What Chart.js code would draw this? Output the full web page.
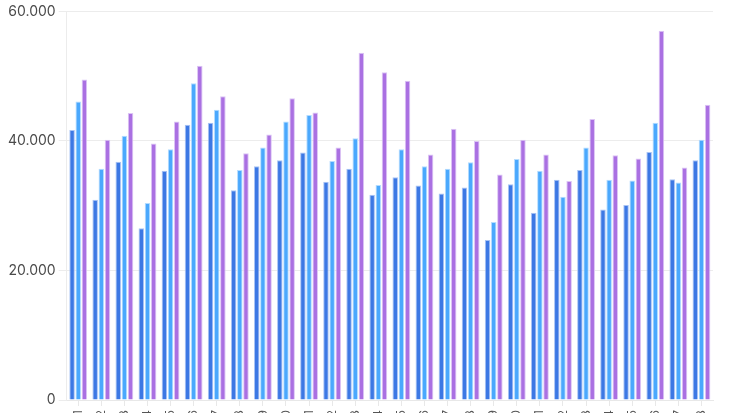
<!DOCTYPE html>
<html lang="de">
<head>
    <meta charset="UTF-8">
    <title>Werte je Kategorie</title>
    <script src="https://cdn.jsdelivr.net/npm/chart.js"></script>
    <style>
        html, body {
            margin: 0;
            padding: 0;
            overflow: hidden;
            background: #ffffff;
        }
        #myChart {
            display: block;
        }
    </style>
</head>
<body>
    <canvas id="myChart" width="735" height="470"></canvas>

    <script>
        const labels = [
            'Kategorie 01', 'Kategorie 02', 'Kategorie 03', 'Kategorie 04', 'Kategorie 05', 'Kategorie 06', 'Kategorie 07',
            'Kategorie 08', 'Kategorie 09', 'Kategorie 10', 'Kategorie 11', 'Kategorie 12', 'Kategorie 13', 'Kategorie 14',
            'Kategorie 15', 'Kategorie 16', 'Kategorie 17', 'Kategorie 18', 'Kategorie 19', 'Kategorie 20', 'Kategorie 21',
            'Kategorie 22', 'Kategorie 23', 'Kategorie 24', 'Kategorie 25', 'Kategorie 26', 'Kategorie 27', 'Kategorie 28'
        ];
        const serieA = [41700, 30900, 36800, 26500, 35400, 42500, 42800, 32400, 36100, 37000, 38200, 33700, 35700, 31700,
                        34400, 33100, 31900, 32800, 24700, 33300, 28900, 34000, 35500, 29400, 30100, 38300, 34100, 37000];
        const serieB = [46100, 35700, 40800, 30400, 38700, 48900, 44800, 35500, 39000, 43000, 44000, 36900, 40400, 33200,
                        38700, 36100, 35700, 36700, 27500, 37200, 35400, 31400, 39000, 34000, 33900, 42800, 33600, 40200];
        const serieC = [49500, 40200, 44300, 39600, 43000, 51600, 46900, 38100, 41000, 46600, 44400, 39000, 53600, 50600,
                        49300, 37900, 41900, 40000, 34800, 40200, 37900, 33800, 43400, 37800, 37300, 57000, 35900, 45600];
        const yTicks = [0, 20000, 40000, 60000];

        const ctx = document.getElementById('myChart').getContext('2d');
        const myChart = new Chart(ctx, {
            type: 'bar',
            data: {
                labels: labels,
                datasets: [
                    {
                        label: 'Serie A',
                        data: serieA,
                        backgroundColor: '#3c78e4',
                        borderColor: '#a9c4f5',
                        borderWidth: 1
                    },
                    {
                        label: 'Serie B',
                        data: serieB,
                        backgroundColor: '#4aa8fd',
                        borderColor: '#b4dcff',
                        borderWidth: 1
                    },
                    {
                        label: 'Serie C',
                        data: serieC,
                        backgroundColor: '#aa70e2',
                        borderColor: '#dcc5f5',
                        borderWidth: 1
                    }
                ]
            },
            options: {
                responsive: false,
                animation: false,
                locale: 'de-DE',
                layout: {
                    padding: { top: 3, right: 22, left: 5, bottom: 0 }
                },
                plugins: {
                    legend: { display: false },
                    tooltip: { enabled: false }
                },
                datasets: {
                    bar: {
                        categoryPercentage: 0.8,
                        barPercentage: 0.9
                    }
                },
                scales: {
                    x: {
                        grid: {
                            offset: false,
                            drawOnChartArea: false,
                            drawTicks: true,
                            tickLength: 6,
                            color: '#e8e8e8'
                        },
                        border: { display: true, color: '#e8e8e8' },
                        ticks: {
                            minRotation: 90,
                            maxRotation: 90,
                            padding: 4,
                            color: '#555555',
                            font: { family: 'Inter', size: 12 }
                        },
                        afterFit: function (scale) {
                            scale.height = 70;
                        }
                    },
                    y: {
                        min: 0,
                        max: 60000,
                        afterBuildTicks: function (scale) {
                            scale.ticks = yTicks.map(v => ({ value: v }));
                        },
                        grid: {
                            color: '#ececec',
                            tickLength: 8
                        },
                        border: { display: true, color: '#ececec' },
                        ticks: {
                            color: '#4a4a4a',
                            padding: 3,
                            font: { family: 'Inter', size: 14 }
                        }
                    }
                }
            }
        });
    </script>
</body>
</html>
